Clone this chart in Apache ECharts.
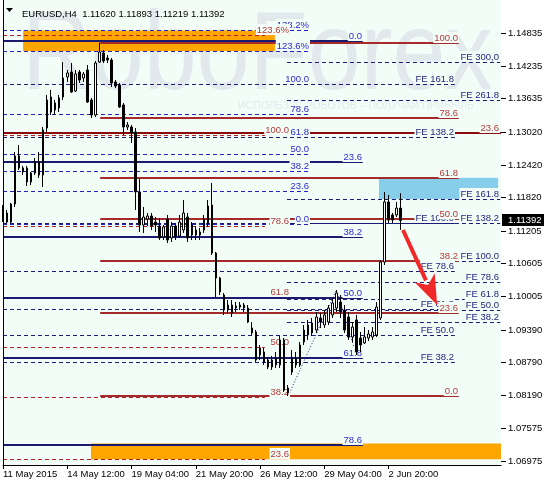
<!DOCTYPE html>
<html><head><meta charset="utf-8">
<script src="https://cdn.jsdelivr.net/npm/echarts@6/dist/echarts.min.js"></script>
<style>html,body{margin:0;padding:0;background:#fff}#c{width:544px;height:483px}</style>
</head><body><div id="c"></div>
<script>
// ---------- data ----------
const titleText = 'EURUSD,H4  1.11620 1.11893 1.11219 1.11392';
const timeLabels = ['11 May 2015','14 May 12:00','19 May 04:00','21 May 20:00','26 May 12:00','29 May 04:00','2 Jun 20:00'];
const labelStep = 16;
const barCount = 125;
const priceTicks = [1.14835,1.14235,1.13635,1.13020,1.12420,1.11820,1.11205,1.10605,1.10005,1.09390,1.08790,1.08190,1.07575,1.06975];
const lastPrice = 1.11392;
const priceMin = 1.06902, priceMax = 1.15441;
// [open, close, low, high]
const candles = [
[1.11548,1.11475,1.11364,1.11677],[1.11530,1.11364,1.11346,1.11585],[1.11364,1.11695,1.11346,1.11714],[1.11695,1.12577,1.11640,1.12650],
[1.12577,1.12356,1.12319,1.12778],[1.12283,1.12356,1.12228,1.12393],[1.12356,1.12099,1.12026,1.12393],[1.12099,1.12264,1.12044,1.12283],
[1.12264,1.12466,1.12228,1.12540],[1.12466,1.12228,1.12173,1.12650],[1.12228,1.13054,1.12007,1.13109],[1.13091,1.13605,1.13017,1.13697],
[1.13660,1.13384,1.13329,1.13788],[1.13550,1.13421,1.13329,1.13605],[1.13458,1.13642,1.13384,1.13697],[1.13660,1.14009,1.13605,1.14302],
[1.14027,1.14101,1.13935,1.14156],[1.14119,1.13752,1.13733,1.14284],[1.13770,1.14082,1.13752,1.14156],[1.14119,1.13972,1.13917,1.14156],
[1.14009,1.14082,1.13935,1.14119],[1.14156,1.13568,1.13550,1.14247],[1.13605,1.13329,1.13274,1.13642],[1.13329,1.14284,1.13292,1.14321],
[1.14302,1.14486,1.14284,1.14657],[1.14468,1.14321,1.14284,1.14523],[1.14376,1.14339,1.14284,1.14431],[1.14339,1.13917,1.13843,1.14376],
[1.13935,1.13862,1.13825,1.13972],[1.13880,1.13476,1.13458,1.13917],[1.13513,1.13109,1.12962,1.13550],[1.13109,1.13146,1.13054,1.13201],
[1.13109,1.12999,1.12815,1.13146],[1.13017,1.11915,1.11585,1.13091],[1.11915,1.11309,1.11181,1.12154],[1.11309,1.11456,1.11163,1.11640],
[1.11419,1.11475,1.11291,1.11530],[1.11475,1.11291,1.11218,1.11530],[1.11364,1.11309,1.11181,1.11456],[1.11291,1.11071,1.11034,1.11438],
[1.11089,1.11273,1.11034,1.11309],[1.11419,1.11034,1.10979,1.11493],[1.11071,1.11291,1.10997,1.11364],[1.11291,1.11107,1.11034,1.11346],
[1.11107,1.11364,1.11071,1.11493],[1.11218,1.11530,1.11163,1.11769],[1.11456,1.11071,1.10997,1.11530],[1.11126,1.11309,1.11034,1.11364],
[1.11218,1.11126,1.11034,1.11291],[1.11126,1.11181,1.11034,1.11254],[1.11218,1.11419,1.11163,1.11493],[1.11346,1.11658,1.11273,1.11769],
[1.11677,1.10795,1.10759,1.12081],[1.10795,1.10336,1.09987,1.10814],[1.10336,1.10079,1.10024,1.10355],[1.10024,1.09749,1.09657,1.10061],
[1.09749,1.09840,1.09694,1.09932],[1.09840,1.09694,1.09620,1.09932],[1.09822,1.09785,1.09712,1.09895],[1.09803,1.09840,1.09749,1.09895],
[1.09840,1.09785,1.09712,1.09877],[1.09785,1.09528,1.09510,1.09840],[1.09418,1.09326,1.09290,1.09528],[1.09345,1.08830,1.08794,1.09381],
[1.08922,1.09051,1.08830,1.09106],[1.08977,1.08794,1.08739,1.09051],[1.08830,1.08702,1.08665,1.08886],[1.08702,1.08830,1.08647,1.08904],
[1.08867,1.08739,1.08684,1.08977],[1.08739,1.09198,1.08684,1.09271],[1.09198,1.08279,1.08243,1.09234],[1.08225,1.08316,1.08169,1.08371],
[1.08610,1.08867,1.08555,1.09014],[1.08867,1.08739,1.08684,1.08977],[1.08739,1.09106,1.08702,1.09161],[1.09161,1.09381,1.09106,1.09473],
[1.09290,1.09473,1.09198,1.09565],[1.09326,1.09510,1.09271,1.09602],[1.09381,1.09620,1.09326,1.09712],[1.09602,1.09528,1.09418,1.09694],
[1.09473,1.09657,1.09418,1.09749],[1.09528,1.09785,1.09473,1.09840],[1.09657,1.09877,1.09602,1.09969],[1.09785,1.10061,1.09712,1.10116],
[1.09895,1.09712,1.09602,1.10024],[1.09749,1.09381,1.09326,1.09840],[1.09620,1.09253,1.09198,1.09712],[1.09253,1.09436,1.09161,1.09528],
[1.09565,1.08977,1.08922,1.09657],[1.09234,1.09106,1.08977,1.09345],[1.09143,1.09253,1.09124,1.09436],[1.09234,1.09308,1.09179,1.09381],
[1.09253,1.09345,1.09198,1.09436],[1.09290,1.09803,1.09253,1.09895],[1.09602,1.10630,1.09565,1.10667],[1.10630,1.11732,1.10575,1.11915],
[1.11732,1.11401,1.11346,1.11860],[1.11493,1.11401,1.11346,1.11530],[1.11493,1.11621,1.11456,1.11732],[1.11620,1.11392,1.11219,1.11893]
];
// Fibonacci retracement A (blue dashed)
const fibAPrices = [1.14881,1.14505,1.13899,1.13348,1.12917,1.12613,1.12310,1.11934,1.11328];
const fibALabels = ['138.2%','123.6%','100.0','78.6','61.8','50.0','38.2','23.6','0.0'];
const fibASpan = [0, 76.4];
// Fibonacci retracement B (red dashed)
const fibBPrices = [1.14803,1.12962,1.11293,1.09982,1.09072,1.08142,1.07003];
const fibBLabels = ['123.6%','100.0','78.6','61.8','50.0','38.2','23.6'];
const fibBSpan = [0, 65.2, 71.5];
// Fibonacci retracement C (red solid)
const fibCPrices = [1.14657,1.13269,1.12179,1.11413,1.10648,1.09700,1.08169];
const fibCLabels = ['100.0','78.6','61.8','50.0','38.2','23.6','0.0'];
const fibCSpan = [24.2, 113.5];
// Fibonacci retracement D (navy solid)
const fibDPrices = [1.14694,1.12466,1.11088,1.09975,1.08861,1.07275];
const fibDLabels = ['0.0','23.6','38.2','50.0','61.8','78.6'];
const fibDSpan = [0, 89.6];
// Fibonacci expansion E
const feEPrices = [1.14303,1.13606,1.11781,1.11351,1.10654,1.10263,1.09957,1.09742,1.09526];
const feELabels = ['FE 300,0','FE 261.8','FE 161.8','FE 138.2','FE 100.0','FE 78.6','FE 61.8','FE 50.0','FE 38.2'];
const feESpan = [70.7, 123.8];
// Fibonacci expansion F
const feFPrices = [1.13899,1.12924,1.11346,1.10462,1.09768,1.09281,1.08794];
const feFLabels = ['FE 161.8','FE 138.2','FE 100.0','FE 78.6','FE 61.8','FE 50.0','FE 38.2'];
const feFSpan = [0, 112.5];
// single dark red level
const levelGPrices = [1.13004];
const levelGLabels = ['23.6'];
const levelGSpan = [0, 124];
// zones [x1, x2, priceTop, priceBottom]
const orangeZones = [[5, 67.7, 1.14881, 1.14505],[21.9, 124, 1.07297, 1.07007]];
const blueZones = [[93.6, 123.3, 1.12179, 1.11787]];
// expansion anchor polyline [bar, price]
const feAnchors = [[71, 1.08169],[83, 1.10116],[88, 1.08922]];
// arrow [barFrom, priceFrom, barTo, priceTo]
const arrows = [[99.6, 1.11218, 108.1, 1.09840]];

// ---------- styling ----------
const PLOT_BG = '#f3fdf7';
const FONT = '9.5px "Liberation Sans", Arial, sans-serif';
const C_BLUE_TXT = '#2b2bd0', C_NAVY_TXT = '#262680', C_RED_TXT = '#b33a3a';

function lineSeries(data, color, width, dash, z) {
  return {type:'custom', xAxisIndex:1, yAxisIndex:0, z, silent:true, clip:false,
    data,
    renderItem:(params, api)=>{
      const a = api.coord([api.value(0), api.value(2)]);
      const b = api.coord([api.value(1), api.value(2)]);
      const y = width % 2 ? Math.round(a[1]) + 0.5 : Math.round(a[1]);
      return {type:'line', shape:{x1:a[0], y1:y, x2:b[0], y2:y},
        style:{stroke:color, lineWidth:width, lineDash:dash}};
    }};
}
function labelSeries(prices, labels, xAt, color, z) {
  return {type:'custom', xAxisIndex:1, yAxisIndex:0, z, silent:true, clip:false,
    data: prices.map((p,i)=>[xAt, p, i]),
    renderItem:(params, api)=>{
      const pt = api.coord([api.value(0), api.value(1)]);
      return {type:'text', x:Math.round(pt[0]), y:Math.round(pt[1]),
        style:{text:labels[api.value(2)], fill:color, font:FONT, align:'right', verticalAlign:'bottom',
          backgroundColor:PLOT_BG, padding:[1,1,0,1]}};
    }};
}
function zoneSeries(data, color, z) {
  return {type:'custom', xAxisIndex:1, yAxisIndex:0, z, silent:true, clip:false, data,
    renderItem:(params, api)=>{
      const a = api.coord([api.value(0), api.value(2)]);
      const b = api.coord([api.value(1), api.value(3)]);
      return {type:'rect', shape:{x:a[0], y:a[1], width:b[0]-a[0], height:b[1]-a[1]}, style:{fill:color}};
    }};
}
const span = (prices, s) => prices.map(p => [s[0], s[1], p]);

const chart = echarts.init(document.getElementById('c'), null, {renderer:'canvas'});
const option = {
  animation:false,
  backgroundColor:'#ffffff',
  title:{text:titleText, left:17, top:4, textStyle:{fontSize:9.5, fontWeight:'normal', color:'#000', fontFamily:'"Liberation Sans", Arial'}},
  graphic:[
    {type:'rect', z:-10, shape:{x:3, y:0, width:498, height:465}, style:{fill:PLOT_BG}},
    {type:'text', z:-9, x:22, y:58, scaleX:0.85, style:{text:'RoboForex', font:'112px "Liberation Sans", Arial', fill:'#e1e9ed', verticalAlign:'middle'}},
    {type:'text', z:-9, x:238, y:106, style:{text:'ИСПОЛЬЗУЙ РОБОТОВ – ПОЛУЧАЙ ПРИБЫЛЬ', font:'10.5px "Liberation Sans", Arial', fill:'#e1e9ed', verticalAlign:'middle'}},
    {type:'line', z:5, shape:{x1:3.5, y1:0, x2:3.5, y2:465}, style:{stroke:'#000', lineWidth:1}},
    {type:'polygon', z:5, shape:{points:[[6,8],[13,8],[9.5,12]]}, style:{fill:'#000'}}
  ],
  grid:{left:3, right:43, top:0, bottom:18, show:false},
  xAxis:[
    {type:'category', data:Array.from({length:barCount}, (_, i) => String(i)), boundaryGap:false,
      axisLine:{lineStyle:{color:'#000', width:1}},
      axisTick:{interval:(i)=> i % labelStep === 0 && i / labelStep < timeLabels.length, length:4, lineStyle:{color:'#000'}},
      axisLabel:{interval:(i)=> i % labelStep === 0 && i / labelStep < timeLabels.length,
        formatter:(v, i)=> timeLabels[i / labelStep] || '', align:'left', color:'#000', fontSize:9.5,
        fontFamily:'"Liberation Sans", Arial', margin:4},
      splitLine:{show:false}},
    {type:'value', min:0, max:barCount - 1, show:false}
  ],
  yAxis:{type:'value', min:priceMin, max:priceMax, position:'right',
    axisLine:{show:true, lineStyle:{color:'#000'}}, axisTick:{show:false}, axisLabel:{show:false}, splitLine:{show:false}},
  series:[
    zoneSeries(orangeZones, '#ffa500', 1),
    zoneSeries(blueZones, '#87ceeb', 1),
    lineSeries(span(fibAPrices, fibASpan), '#2222c4', 1, [4,3], 2),
    lineSeries(span(fibBPrices, fibBSpan), '#b22222', 1, [4,3], 2),
    lineSeries(span(feFPrices, feFSpan), '#1c1c78', 1, [4,3], 2),
    lineSeries(span(feEPrices, feESpan), '#1c1c78', 1, [4,3], 2),
    lineSeries(span(fibDPrices, fibDSpan), '#1a1a6e', 2, null, 3),
    lineSeries(span(levelGPrices, levelGSpan), '#8b0a0a', 2, null, 3),
    lineSeries(span(fibCPrices, fibCSpan), '#a52a2a', 2, null, 3),
    {type:'line', xAxisIndex:1, z:3, data:feAnchors, symbol:'none', silent:true,
      lineStyle:{color:'#1c1c78', width:1, type:[1,2]}},
    labelSeries(feFPrices, feFLabels, feFSpan[1], C_NAVY_TXT, 4),
    labelSeries(feEPrices, feELabels, feESpan[1], C_NAVY_TXT, 4),
    labelSeries(fibAPrices, fibALabels, fibASpan[1], C_BLUE_TXT, 4),
    labelSeries(fibDPrices, fibDLabels, fibDSpan[1], C_BLUE_TXT, 4),
    labelSeries(fibBPrices, fibBLabels, fibBSpan[2], C_RED_TXT, 4),
    labelSeries(levelGPrices, levelGLabels, levelGSpan[1] - 0.2, C_RED_TXT, 4),
    labelSeries(fibCPrices, fibCLabels, fibCSpan[1], C_RED_TXT, 5),
    {type:'candlestick', xAxisIndex:0, yAxisIndex:0, z:8, data:candles, barWidth:2, silent:true,
      itemStyle:{color:'#ffffff', color0:'#000000', borderColor:'#000000', borderColor0:'#000000', borderWidth:1}},
    {type:'custom', xAxisIndex:1, z:9, silent:true, clip:false, data:arrows,
      renderItem:(params, api)=>{
        const s = api.coord([api.value(0), api.value(1)]), t = api.coord([api.value(2), api.value(3)]);
        const dx = t[0]-s[0], dy = t[1]-s[1], len = Math.hypot(dx, dy), ux = dx/len, uy = dy/len;
        const hl = 30, hw = 11;
        const bx = t[0]-ux*hl, by = t[1]-uy*hl;
        return {type:'group', children:[
          {type:'line', shape:{x1:s[0], y1:s[1], x2:bx+ux*3, y2:by+uy*3}, style:{stroke:'#f02828', lineWidth:4}},
          {type:'polygon', shape:{points:[[t[0],t[1]],[bx-uy*hw, by+ux*hw],[bx+ux*8, by+uy*8],[bx+uy*hw, by-ux*hw]]}, style:{fill:'#f02828'}}
        ]};
      }},
    {type:'custom', xAxisIndex:1, z:9, silent:true, clip:false,
      data: priceTicks.map(p => [barCount - 1, p]),
      renderItem:(params, api)=>{
        const pt = api.coord([api.value(0), api.value(1)]);
        const y = Math.round(pt[1]) + 0.5;
        return {type:'group', children:[
          {type:'line', shape:{x1:pt[0], y1:y, x2:pt[0]+5, y2:y}, style:{stroke:'#000', lineWidth:1}},
          {type:'text', x:pt[0]+7, y:y, style:{text:api.value(1).toFixed(5), fill:'#000', font:FONT, verticalAlign:'middle'}}
        ]};
      }},
    {type:'custom', xAxisIndex:1, z:10, silent:true, clip:false, data:[[barCount - 1, lastPrice]],
      renderItem:(params, api)=>{
        const pt = api.coord([api.value(0), api.value(1)]);
        const y = Math.round(pt[1]);
        return {type:'group', children:[
          {type:'rect', shape:{x:pt[0]+1, y:y-6, width:43, height:12}, style:{fill:'#000'}},
          {type:'text', x:pt[0]+7, y:y+0.5, style:{text:api.value(1).toFixed(5), fill:'#fff', font:FONT, verticalAlign:'middle'}}
        ]};
      }}
  ]
};
chart.setOption(option);
</script></body></html>
